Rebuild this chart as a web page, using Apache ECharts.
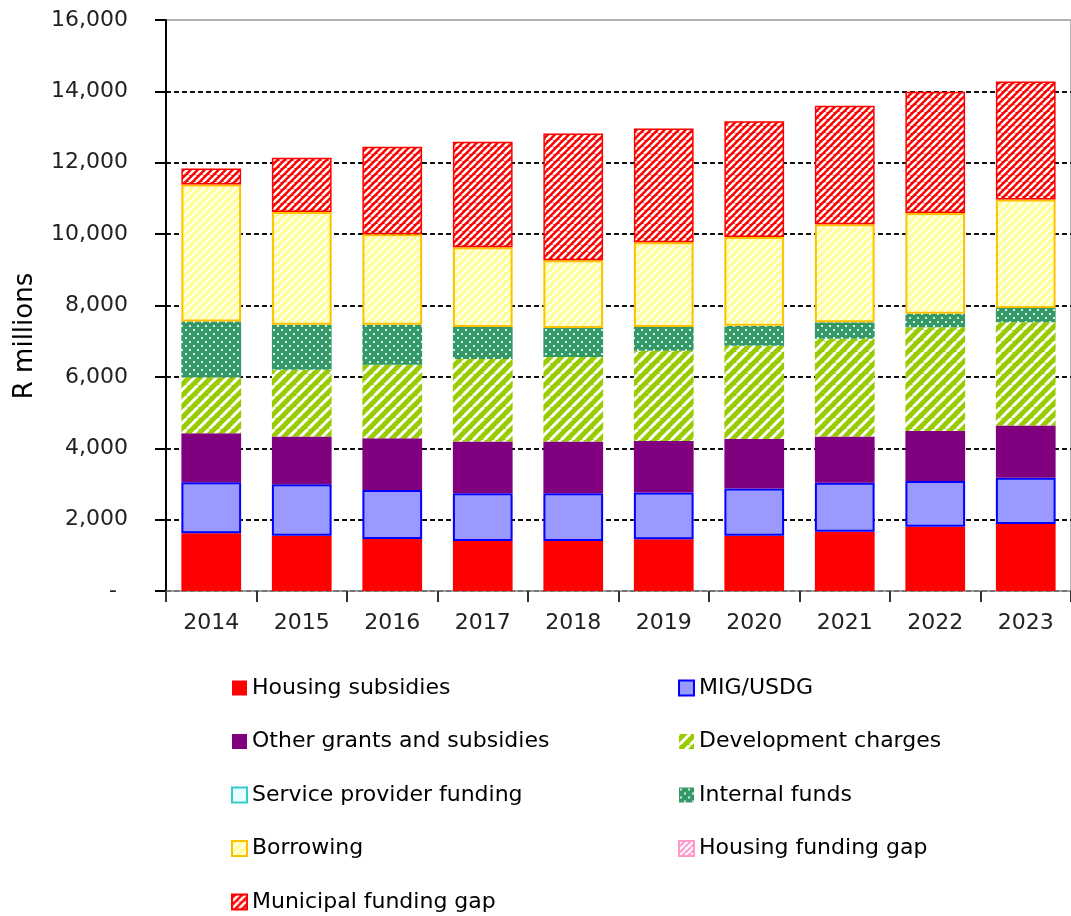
<!DOCTYPE html>
<html>
<head>
<meta charset="utf-8">
<script src="https://cdn.jsdelivr.net/npm/echarts@6/dist/echarts.min.js"></script>
<style>
html,body{margin:0;padding:0;background:#fff;}
#chart{width:1071px;height:916px;}
</style>
</head>
<body>
<div id="chart"></div>
<script>
// ---- data (R millions) ----
const years = ['2014','2015','2016','2017','2018','2019','2020','2021','2022','2023'];
const yTicks = [0, 2000, 4000, 6000, 8000, 10000, 12000, 14000, 16000];
const housingSubsidies   = [1620, 1550, 1460, 1400, 1400, 1450, 1550, 1660, 1800, 1880];
const migUsdg            = [1430, 1440, 1370, 1340, 1340, 1310, 1320, 1370, 1280, 1290];
const otherGrants        = [1370, 1340, 1450, 1450, 1450, 1440, 1390, 1300, 1400, 1470];
const developmentCharges = [1570, 1870, 2060, 2310, 2370, 2530, 2610, 2740, 2910, 2890];
const serviceProvider    = [0, 0, 0, 0, 0, 0, 0, 0, 0, 0];
const internalFunds      = [1560, 1260, 1120, 900, 810, 670, 560, 460, 380, 400];
const borrowing          = [3840, 3160, 2540, 2230, 1900, 2370, 2490, 2750, 2820, 3040];
const housingFundingGap  = [0, 0, 0, 0, 0, 0, 0, 0, 0, 0];
const municipalFundingGap= [450, 1520, 2450, 2960, 3550, 3190, 3240, 3320, 3400, 3310];

// ---- fill patterns ----
function stripes(bg, fg, p, lw) {
  const c = document.createElement('canvas');
  c.width = p; c.height = p;
  const g = c.getContext('2d');
  g.fillStyle = bg; g.fillRect(0, 0, p, p);
  g.strokeStyle = fg; g.lineWidth = lw;
  for (let k = -1; k <= 1; k++) {
    g.beginPath(); g.moveTo(k * p, p); g.lineTo(k * p + p, 0); g.stroke();
  }
  return { image: c, repeat: 'repeat' };
}
function dots(bg, fg, p, r) {
  const c = document.createElement('canvas');
  c.width = p; c.height = p;
  const g = c.getContext('2d');
  g.fillStyle = bg; g.fillRect(0, 0, p, p);
  g.fillStyle = fg;
  [[p * 0.25, p * 0.25], [p * 0.75, p * 0.75]].forEach(([x, y]) => {
    g.beginPath(); g.arc(x, y, r, 0, Math.PI * 2); g.fill();
  });
  return { image: c, repeat: 'repeat' };
}

const FONT = 'DejaVu Sans';
const chart = echarts.init(document.getElementById('chart'), null, { renderer: 'canvas' });

function bar(name, data, itemStyle) {
  return { name, type: 'bar', stack: 'total', data, barWidth: '66%', itemStyle, emphasis: { disabled: true } };
}

const series = [
  bar('Housing subsidies', housingSubsidies, { color: '#FF0000' }),
  bar('MIG/USDG', migUsdg, { color: '#9999FF', borderColor: '#0000FF', borderWidth: 2 }),
  bar('Other grants and subsidies', otherGrants, { color: '#800080' }),
  bar('Development charges', developmentCharges, { color: stripes('#99CC00', '#FFFFFF', 11, 3) }),
  bar('Service provider funding', serviceProvider, { color: '#FFFFFF', borderWidth: 0 }),
  bar('Internal funds', internalFunds, { color: dots('#339966', '#FFFFFF', 8, 1.1) }),
  bar('Borrowing', borrowing, { color: stripes('#FFFF99', '#FFFFFF', 8, 2), borderColor: '#FFC000', borderWidth: 2 }),
  bar('Housing funding gap', housingFundingGap, { color: '#FFFFFF', borderWidth: 0 }),
  bar('Municipal funding gap', municipalFundingGap, { color: stripes('#FF0000', '#FFFFFF', 7, 2.5), borderColor: '#FF0000', borderWidth: 1.5 })
];

const legendText = { fontFamily: FONT, fontSize: 22, color: '#000', lineHeight: 22 };
const legendCommon = {
  orient: 'vertical', itemWidth: 15, itemHeight: 15, itemGap: 31.5, padding: 0, height: 240,
  textStyle: legendText, selectedMode: false, icon: 'rect'
};

const option = {
  animation: false,
  backgroundColor: '#fff',
  grid: { left: 166, right: 0, top: 20, bottom: 325, show: true, borderColor: '#999', borderWidth: 1.5, backgroundColor: 'transparent' },
  graphic: [{
    type: 'text', x: 25, y: 336, rotation: Math.PI / 2,
    style: { text: 'R millions', font: '26px "DejaVu Sans"', fill: '#000', align: 'center', verticalAlign: 'middle' }
  }],
  legend: [
    Object.assign({}, legendCommon, {
      left: 231, top: 677,
      data: [
        'Housing subsidies',
        'Other grants and subsidies',
        { name: 'Service provider funding', itemStyle: { color: '#E8FFFF', borderColor: '#33CCCC', borderWidth: 2 } },
        'Borrowing',
        'Municipal funding gap'
      ]
    }),
    Object.assign({}, legendCommon, {
      left: 678, top: 677,
      data: [
        'MIG/USDG',
        'Development charges',
        'Internal funds',
        { name: 'Housing funding gap', itemStyle: { color: stripes('#FFFFFF', '#FF99CC', 6, 2), borderColor: '#FF99CC', borderWidth: 2 } }
      ]
    })
  ],
  xAxis: {
    type: 'category', data: years,
    axisLine: { show: true, lineStyle: { color: '#999', width: 1.5 } },
    axisTick: { show: true, length: 11, lineStyle: { color: '#333', width: 2 } },
    axisLabel: { margin: 21, fontFamily: FONT, fontSize: 22, color: '#222' }
  },
  yAxis: {
    type: 'value', min: yTicks[0], max: yTicks[yTicks.length - 1], interval: yTicks[1] - yTicks[0],
    axisLine: { show: true, lineStyle: { color: '#000', width: 2 } },
    axisTick: { show: true, length: 11, lineStyle: { color: '#000', width: 2 } },
    axisLabel: {
      margin: 38, fontFamily: FONT, fontSize: 22, color: '#222',
      formatter: v => v === 0 ? '-\u2002' : v.toLocaleString('en-US')
    },
    splitLine: {
      show: true,
      lineStyle: {
        type: [5, 3], width: 2,
        color: ['#111', '#111', '#111', '#111', '#111', '#111', '#111', '#111', 'rgba(0,0,0,0)']
      }
    }
  },
  series
};
chart.setOption(option);
</script>
</body>
</html>
